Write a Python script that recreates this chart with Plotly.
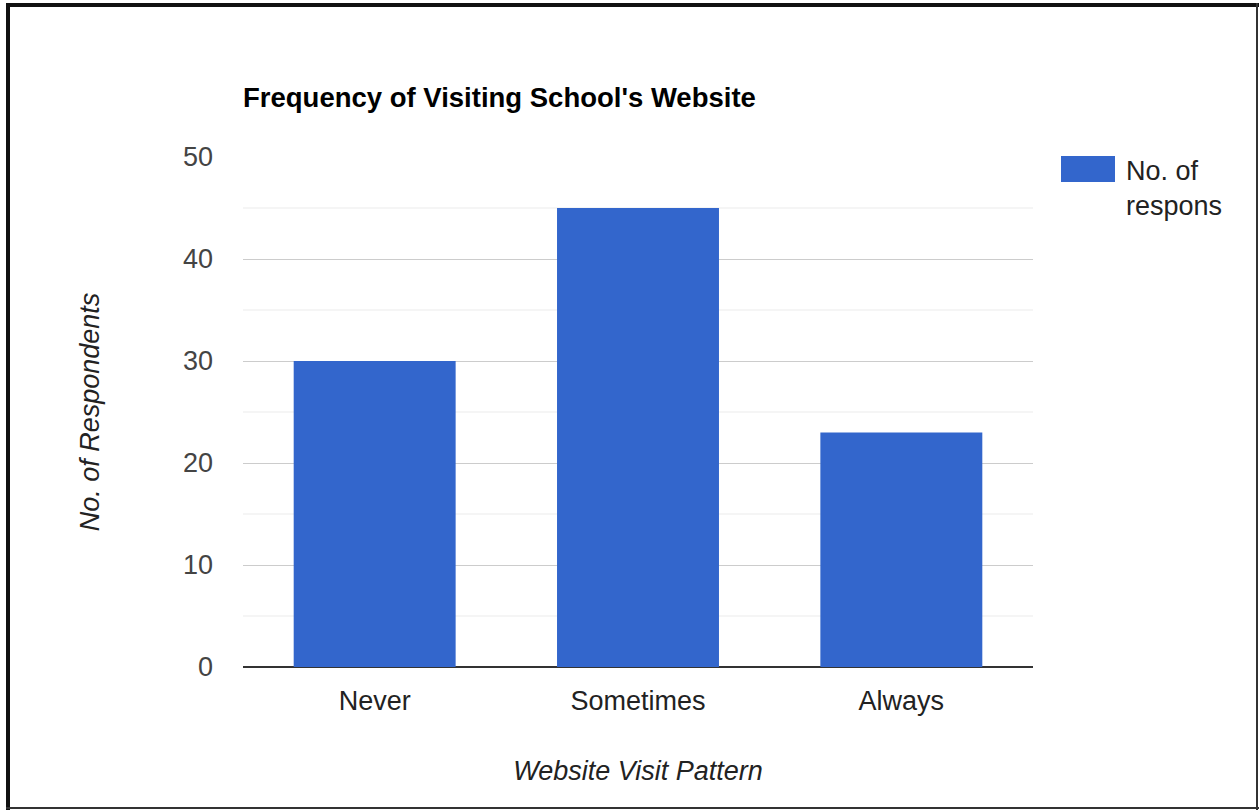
import plotly.graph_objects as go

# Survey data
categories = ["Never", "Sometimes", "Always"]
respondents = [30, 45, 23]
series_name = "No. of<br>respons"
y_ticks = [0, 10, 20, 30, 40, 50]

W, H = 1259, 810
L, R, T, B = 243, 226, 157, 143
PW, PH = W - L - R, H - T - B

def px(x):
    return (x - L) / PW

def py(y):
    return (H - B - y) / PH

FONT = "Arial, Liberation Sans, sans-serif"
BLUE = "#3366cc"
FS = 27

fig = go.Figure()
fig.add_trace(go.Bar(
    x=categories, y=respondents, marker=dict(color=BLUE, line=dict(width=0)),
    name="No. of respons", showlegend=False,
))

shapes = []
# minor gridlines at the 5s
for v in [5, 15, 25, 35, 45]:
    shapes.append(dict(type="line", xref="paper", yref="y", x0=0, x1=1, y0=v, y1=v,
                       line=dict(color="#ebebeb", width=1), layer="below"))
# legend swatch
shapes.append(dict(type="rect", xref="paper", yref="paper",
                   x0=px(1061), x1=px(1115), y0=py(182), y1=py(156),
                   fillcolor=BLUE, line=dict(width=0)))
# outer frame
shapes += [
    dict(type="line", xref="paper", yref="paper", x0=px(8), x1=px(8), y0=py(3), y1=py(810),
         line=dict(color="#111", width=4)),
    dict(type="line", xref="paper", yref="paper", x0=px(6), x1=px(1259), y0=py(5), y1=py(5),
         line=dict(color="#111", width=4)),
    dict(type="line", xref="paper", yref="paper", x0=px(1257), x1=px(1257), y0=py(3), y1=py(810),
         line=dict(color="#333", width=2)),
    dict(type="line", xref="paper", yref="paper", x0=px(6), x1=px(1259), y0=py(808), y1=py(808),
         line=dict(color="#333", width=2)),
]

fig.update_layout(
    width=W, height=H,
    margin=dict(l=L, r=R, t=T, b=B),
    paper_bgcolor="white", plot_bgcolor="white",
    font=dict(family=FONT, color="#444", size=FS),
    bargap=0.385,
    showlegend=False,
    title=dict(text="<b>Frequency of Visiting School's Website</b>",
               x=px(243), xanchor="left", xref="paper",
               y=1 - 97 / H, yanchor="middle",
               font=dict(size=27.5, color="#000", family=FONT)),
    xaxis=dict(showgrid=False, tickfont=dict(size=FS, color="#222"), ticks="",
               showline=False, ticklabelstandoff=15,
               title=dict(text="<i>Website Visit Pattern</i>", font=dict(size=FS, color="#222"),
                          standoff=46)),
    yaxis=dict(range=[0, 50], tickvals=y_ticks, showgrid=True, gridcolor="#cccccc",
               gridwidth=1, zeroline=True, zerolinecolor="#333", zerolinewidth=2,
               tickfont=dict(size=FS, color="#444"), ticks="", ticklabelstandoff=29,
               title=dict(text="<i>No. of Respondents</i>", font=dict(size=FS, color="#222"),
                          standoff=75)),
    shapes=shapes,
    annotations=[dict(text=series_name, xref="paper", yref="paper",
                      x=px(1124), y=py(154), xanchor="left", yanchor="top",
                      align="left", showarrow=False,
                      font=dict(size=FS, color="#222", family=FONT))],
)

fig.write_html("out.html")
